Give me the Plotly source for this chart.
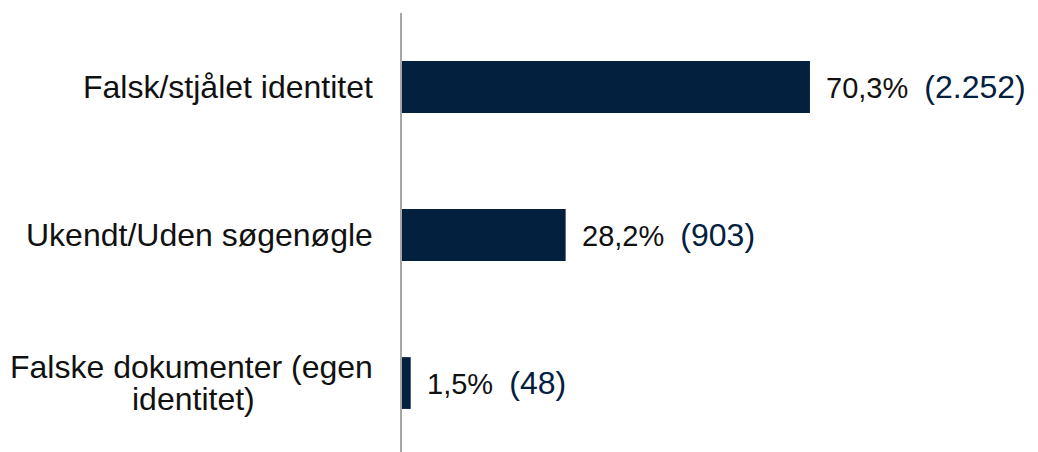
import plotly.graph_objects as go

categories = ["Falsk/stjålet identitet", "Ukendt/Uden søgenøgle", "Falske dokumenter (egen identitet)"]
label_lines = [["Falsk/stjålet identitet"], ["Ukendt/Uden søgenøgle"], ["Falske dokumenter (egen", "identitet)"]]
shares = [70.3, 28.2, 1.5]
share_labels = ["70,3%", "28,2%", "1,5%"]
count_labels = ["(2.252)", "(903)", "(48)"]

NAVY = "#03203F"
FONT = "Liberation Sans, Arial, sans-serif"

# page body has an 8px default margin, so the figure is sized to fit the window
fig = go.Figure(go.Bar(
    x=shares,
    y=categories,
    orientation="h",
    width=0.35,
    marker=dict(color=NAVY, line=dict(width=0)),
    hoverinfo="skip",
))

# value labels: percentage in black, count in navy and slightly larger
for cat, val, pct, cnt in zip(categories, shares, share_labels, count_labels):
    fig.add_annotation(
        x=val, y=cat, xref="x", yref="y",
        text=f"{pct}\u00a0\u00a0<span style='color:{NAVY};font-size:32px'>{cnt}</span>",
        showarrow=False, xanchor="left", xshift=14,
        font=dict(size=29, color="#111111", family=FONT),
    )

# category labels; two-line label split so the line spacing stays tight
for cat, lines in zip(categories, label_lines):
    if len(lines) == 1:
        fig.add_annotation(
            x=0, y=cat, xref="x", yref="y",
            text=lines[0], showarrow=False, xanchor="right",
            xshift=-27,
            font=dict(size=32, color="#111111", family=FONT),
        )
    else:
        fig.add_annotation(
            x=0, y=cat, xref="x", yref="y",
            text=lines[0], showarrow=False, xanchor="right",
            xshift=-27, yshift=16,
            font=dict(size=32, color="#111111", family=FONT),
        )
        fig.add_annotation(
            x=0, y=cat, xref="x", yref="y",
            text=lines[1], showarrow=False, xanchor="center",
            xshift=-209, yshift=-16,
            font=dict(size=32, color="#111111", family=FONT),
        )

fig.update_layout(
    width=1030, height=444,
    margin=dict(l=394, r=0, t=5, b=0),
    plot_bgcolor="white",
    paper_bgcolor="white",
    showlegend=False,
    font=dict(family=FONT, size=28, color="#111111"),
)
fig.update_xaxes(range=[0, 109.6], visible=False, fixedrange=True)
fig.update_yaxes(
    categoryorder="array", categoryarray=categories,
    range=[2.466, -0.5],
    showticklabels=False, showgrid=False, zeroline=False,
    showline=True, linecolor="#A6A6A6", linewidth=2,
    ticks="", fixedrange=True,
)

fig.write_html("out.html")
